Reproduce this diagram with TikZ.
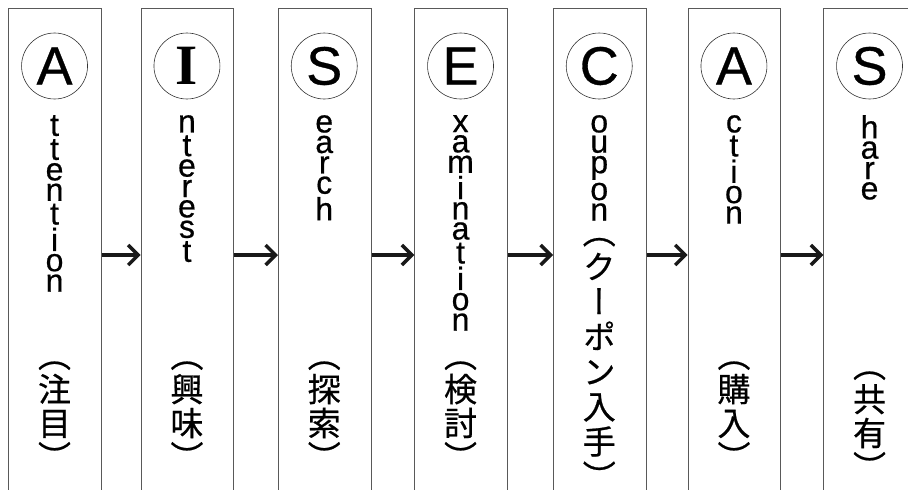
\documentclass[tikz,border=0pt]{standalone}
\usepackage{fontspec}
\setmainfont{Liberation Sans}
\newfontfamily\lat[FakeBold=0.6]{Liberation Sans}
\newfontfamily\cjk[RawFeature=+vert, FakeBold=0.6]{Noto Sans CJK JP}
\newfontfamily\serifb{Liberation Serif}
\usetikzlibrary{arrows.meta}
\makeatletter
\newcommand\lstack[1]{\vbox{\baselineskip=-1pt\lineskip=3pt\lineskiplimit=0pt\lst@loop#1\relax}}
\def\lst@loop#1{\ifx#1\relax\else\hbox to 0pt{\hss#1\hss}\expandafter\lst@loop\fi}
\newdimen\jpitch
\newcommand\jstack[2]{\vbox{\jpitch=#1\relax\baselineskip=\jpitch\lineskiplimit=-\maxdimen\jst@loop#2\relax}}
\def\jst@loop#1{\ifx#1\relax\else\hbox to 0pt{\hss\vrule height \dimexpr .38em+.5\jpitch\relax depth \dimexpr .5\jpitch-.38em\relax width 0pt\relax #1\hss}\expandafter\jst@loop\fi}
\makeatother
\tikzset{
  colbox/.style={draw=black!65, line width=1pt, minimum width=92.5pt, minimum height=520pt, anchor=north west, inner sep=0pt},
  circ/.style={circle, draw=black!80, line width=0.6pt, minimum size=66pt, inner sep=0pt, font=\lat\fontsize{54}{54}\selectfont},
  word/.style={anchor=north, inner sep=0pt, font=\lat\fontsize{32}{32}\selectfont},
  jword/.style={inner sep=0pt, font=\cjk\fontsize{33}{34}\selectfont},
  arr/.style={line width=3.5pt, draw=black!90, -{Straight Barb[length=10pt, width=20pt]}}
}
\begin{document}
\begin{tikzpicture}[x=1pt,y=-1pt]
\useasboundingbox (0,0) rectangle (908,490);
\clip (0,0) rectangle (908,490);
\node[colbox] (c1) at (8.3,8) {};
\node[colbox] (c2) at (140.7,8) {};
\node[colbox] (c3) at (278,8) {};
\node[colbox] (c4) at (414.3,8) {};
\node[colbox] (c5) at (553,8) {};
\node[colbox] (c6) at (687.7,8) {};
\node[colbox] (c7) at (823.3,8) {};
\node[circ] (l1) at (54.55,66) {A};
\node[circ] (l2) at (186.95,66) {\serifb\bfseries\fontsize{57}{57}\selectfont I};
\node[circ] (l3) at (324.25,66) {S};
\node[circ] (l4) at (460.55,66) {E};
\node[circ] (l5) at (599.25,66) {C};
\node[circ] (l6) at (733.95,66) {A};
\node[circ] (l7) at (869.55,66) {S};
\node[word] (w1) at (54.55,115) {\lstack{ttention}};
\node[word] (w2) at (186.95,115) {\lstack{nterest}};
\node[word] (w3) at (324.25,115) {\lstack{earch}};
\node[word] (w4) at (460.55,115) {\lstack{xamination}};
\node[word] (w5) at (599.25,115) {\lstack{oupon}};
\node[word] (w6) at (733.95,115) {\lstack{ction}};
\node[word] (w7) at (869.55,115) {\lstack{hare}};
\node[jword] (j1) at (54.55,406) {\jstack{34pt}{（注目）}};
\node[jword] (j2) at (186.95,406) {\jstack{34pt}{（興味）}};
\node[jword] (j3) at (324.25,406) {\jstack{34pt}{（探索）}};
\node[jword] (j4) at (460.55,406) {\jstack{34pt}{（検討）}};
\node[jword] (j5) at (599.25,354) {\jstack{35pt}{（クーポン入手）}};
\node[jword] (j6) at (733.95,406) {\jstack{34pt}{（購入）}};
\node[jword] (j7) at (869.55,416) {\jstack{34pt}{（共有）}};
\coordinate (ay) at (0,255);
\draw[arr] (c1.east |- ay) -- (c2.west |- ay);
\draw[arr] (c2.east |- ay) -- (c3.west |- ay);
\draw[arr] (c3.east |- ay) -- (c4.west |- ay);
\draw[arr] (c4.east |- ay) -- (c5.west |- ay);
\draw[arr] (c5.east |- ay) -- (c6.west |- ay);
\draw[arr] (c6.east |- ay) -- (c7.west |- ay);
\end{tikzpicture}
\end{document}
